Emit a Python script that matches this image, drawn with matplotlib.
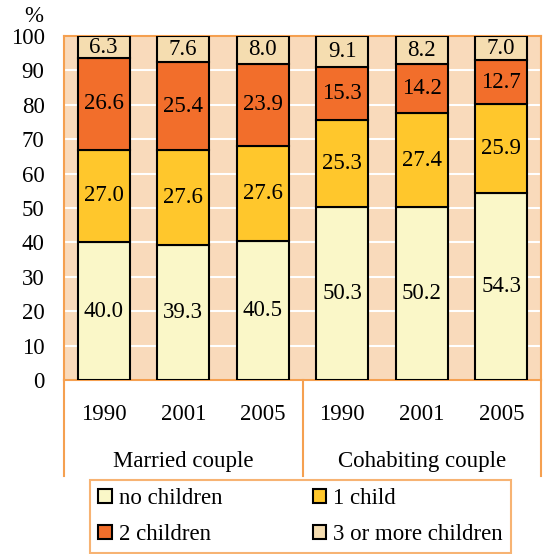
import numpy as np
import matplotlib.pyplot as plt
from matplotlib.patches import Patch

plt.rcParams['font.family'] = ['Liberation Serif', 'DejaVu Serif']

years = ["1990", "2001", "2005", "1990", "2001", "2005"]
groups = ["Married couple", "Cohabiting couple"]
no_children = [40.0, 39.3, 40.5, 50.3, 50.2, 54.3]
one_child = [27.0, 27.6, 27.6, 25.3, 27.4, 25.9]
two_children = [26.6, 25.4, 23.9, 15.3, 14.2, 12.7]
three_more = [6.3, 7.6, 8.0, 9.1, 8.2, 7.0]

series = [no_children, one_child, two_children, three_more]
labels = ["no children", "1 child", "2 children", "3 or more children"]
colors = ["#FAF7C8", "#FFC72C", "#F26E2B", "#F5DDB0"]
orange = "#F5A050"
fs = 16.5

fig = plt.figure(figsize=(5.44, 5.54), dpi=100)
ax = fig.add_axes([64/544, 174/554, 477/544, 344/554])
ax.set_facecolor("#F9DABB")

x = np.arange(len(years))
bottom = np.zeros(len(years))
for vals, col in zip(series, colors):
    vals = np.array(vals)
    ax.bar(x, vals, 0.66, bottom=bottom, color=col, edgecolor="black", linewidth=1.5, zorder=3)
    for xi, b, v in zip(x, bottom, vals):
        ax.text(xi, b + v / 2, f"{v:.1f}", ha="center", va="center", fontsize=fs, zorder=4)
    bottom += vals

ax.set_xlim(-0.5, 5.5)
ax.set_ylim(0, 100)
ax.set_yticks(range(0, 101, 10))
ax.yaxis.grid(True, color="white", linewidth=1.5, zorder=0)
ax.set_axisbelow(True)
ax.tick_params(axis="y", length=0, labelsize=fs, pad=14)
ax.set_xticks(x)
ax.set_xticklabels(years)
ax.tick_params(axis="x", length=0, labelsize=fs, pad=17)
for s in ax.spines.values():
    s.set_color(orange)
    s.set_linewidth(1.5)

ax.text(-0.063, 1.057, "%", transform=ax.transAxes, fontsize=fs, ha="center", va="center")

# group separators below the axis
tr = ax.get_xaxis_transform()
for xv in [-0.5, 2.5, 5.5]:
    ax.plot([xv, xv], [0, -0.28], color=orange, linewidth=1.5, transform=tr, clip_on=False)
ax.text(1, -0.237, groups[0], transform=tr, ha="center", va="center", fontsize=fs)
ax.text(4, -0.237, groups[1], transform=tr, ha="center", va="center", fontsize=fs)

handles = [Patch(facecolor=c, edgecolor="black", linewidth=1.5) for c in colors]
order = [0, 2, 1, 3]
leg = fig.legend([handles[i] for i in order], [labels[i] for i in order], ncol=2,
                 loc="lower left", bbox_to_anchor=(90/544, 1/554, 421/544, 70/554),
                 mode="expand", fontsize=fs, frameon=True, fancybox=False,
                 handlelength=0.6, handleheight=0.6, handletextpad=0.3,
                 borderpad=0.35, labelspacing=0.65, borderaxespad=0, columnspacing=0.5)
leg.get_frame().set_edgecolor(orange)
leg.get_frame().set_linewidth(1.5)

fig.savefig("out.png", dpi=100)
